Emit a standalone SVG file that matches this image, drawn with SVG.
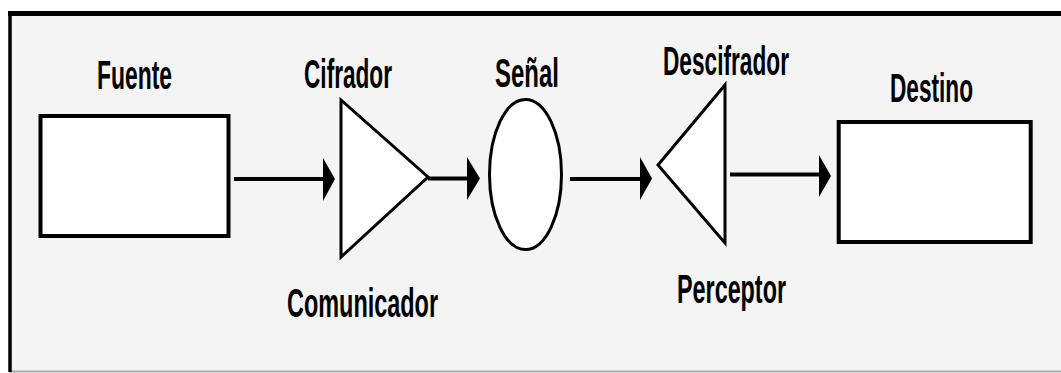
<svg xmlns="http://www.w3.org/2000/svg" width="1061" height="373" viewBox="0 0 1061 373">
<style>
.lbl{font-family:"Liberation Sans",Arial,sans-serif;font-size:40px;font-weight:bold;fill:#000}
.box{fill:#fff;stroke:#000;stroke-width:4}
.shape{fill:#fff;stroke:#000;stroke-width:3}
.conn{stroke:#000;stroke-width:4;fill:none}
.head{fill:#000}
</style>
<rect x="0" y="0" width="1061" height="373" fill="#fff"/>
<g id="frame">
<rect x="9" y="13" width="1060" height="358" fill="#f4f4f4"/>
<line x1="9" y1="371.5" x2="1061" y2="371.5" stroke="#aaa" stroke-width="2"/>
<line x1="8" y1="13.5" x2="1061" y2="13.5" stroke="#000" stroke-width="5"/>
<line x1="10" y1="11" x2="10" y2="372" stroke="#000" stroke-width="3.5"/>
</g>
<g id="fuente">
<rect class="box" x="40.5" y="116" width="188" height="120"/>
<text class="lbl" x="97" y="89" textLength="75" lengthAdjust="spacingAndGlyphs">Fuente</text>
</g>
<g id="cifrador">
<polygon class="shape" points="341,100 341,257 428,177"/>
<text class="lbl" x="304" y="88" textLength="88" lengthAdjust="spacingAndGlyphs">Cifrador</text>
<text class="lbl" x="287" y="317" textLength="151" lengthAdjust="spacingAndGlyphs">Comunicador</text>
</g>
<g id="senal">
<ellipse class="shape" cx="525.5" cy="174.5" rx="36" ry="75"/>
<text class="lbl" x="495" y="87" textLength="64" lengthAdjust="spacingAndGlyphs">Señal</text>
</g>
<g id="descifrador">
<polygon class="shape" points="725,85 725,243 658,165"/>
<text class="lbl" x="663" y="75" textLength="126" lengthAdjust="spacingAndGlyphs">Descifrador</text>
<text class="lbl" x="677" y="303" textLength="109" lengthAdjust="spacingAndGlyphs">Perceptor</text>
</g>
<g id="destino">
<rect class="box" x="838.7" y="122" width="192" height="120"/>
<text class="lbl" x="890" y="102" textLength="83" lengthAdjust="spacingAndGlyphs">Destino</text>
</g>
<g id="connectors">
<line class="conn" x1="234" y1="179" x2="326" y2="179"/>
<polygon class="head" points="323,158 335,179 323,201"/>
<line class="conn" x1="428" y1="178.5" x2="470" y2="178.5"/>
<polygon class="head" points="467,157 480,178.5 467,200"/>
<line class="conn" x1="570" y1="179" x2="642" y2="179"/>
<polygon class="head" points="640,157 652,178.5 640,200"/>
<line class="conn" x1="730" y1="174.5" x2="821" y2="174.5"/>
<polygon class="head" points="819,155 831,176 819,197"/>
</g>
</svg>
